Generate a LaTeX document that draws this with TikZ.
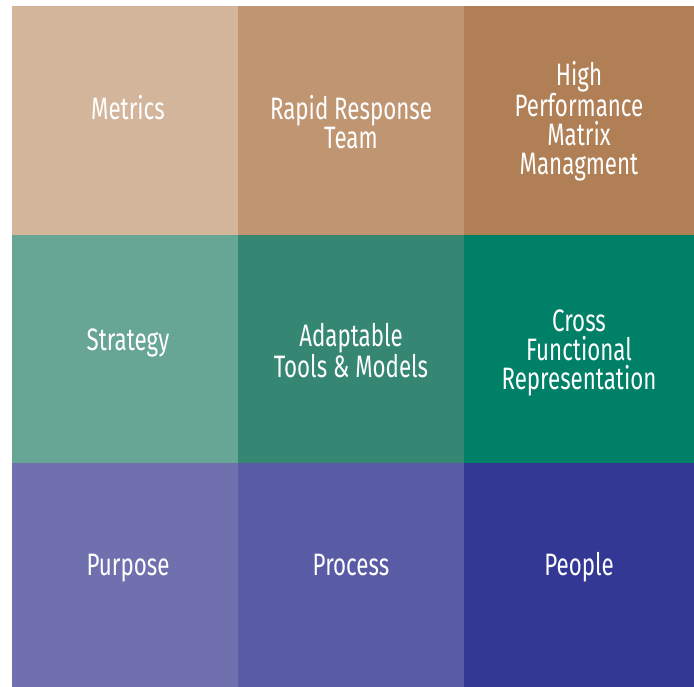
\documentclass[tikz,border=0pt]{standalone}
\usepackage{fontspec}
\setmainfont{Fira Sans}[FakeStretch=0.72]
\definecolor{c11}{HTML}{D2B59B}
\definecolor{c12}{HTML}{C09572}
\definecolor{c13}{HTML}{B07F56}
\definecolor{c21}{HTML}{67A594}
\definecolor{c22}{HTML}{358672}
\definecolor{c23}{HTML}{008066}
\definecolor{c31}{HTML}{7170AE}
\definecolor{c32}{HTML}{5A5BA5}
\definecolor{c33}{HTML}{333895}
\begin{document}
\begin{tikzpicture}[x=1pt,y=-1pt,
  lbl/.style={text=white,align=center,font=\fontsize{31}{29}\selectfont,inner sep=0pt},
  one/.style={lbl,anchor=base}]
\useasboundingbox (0,0) rectangle (694,687);
\fill[c11] (12,6) rectangle (238,235);
\fill[c12] (238,6) rectangle (464,235);
\fill[c13] (464,6) rectangle (694,235);
\fill[c21] (12,235) rectangle (238,463);
\fill[c22] (238,235) rectangle (464,463);
\fill[c23] (464,235) rectangle (694,463);
\fill[c31] (12,463) rectangle (238,687);
\fill[c32] (238,463) rectangle (464,687);
\fill[c33] (464,463) rectangle (694,687);
\node[one] (metrics) at (128,120) {Metrics};
\node[lbl] (rapid) at (351,122.5) {Rapid Response\\Team};
\node[lbl] (high) at (579,121.5) {High\\Performance\\Matrix\\Managment};
\node[one] (strategy) at (128,350) {Strategy};
\node[lbl] (adapt) at (351,350.5) {Adaptable\\Tools \& Models};
\node[lbl] (cross) at (579,352.5) {Cross\\Functional\\Representation};
\node[one] (purpose) at (128,575) {Purpose};
\node[one] (process) at (351,575) {Process};
\node[one] (people) at (579,575) {People};
\end{tikzpicture}
\end{document}
